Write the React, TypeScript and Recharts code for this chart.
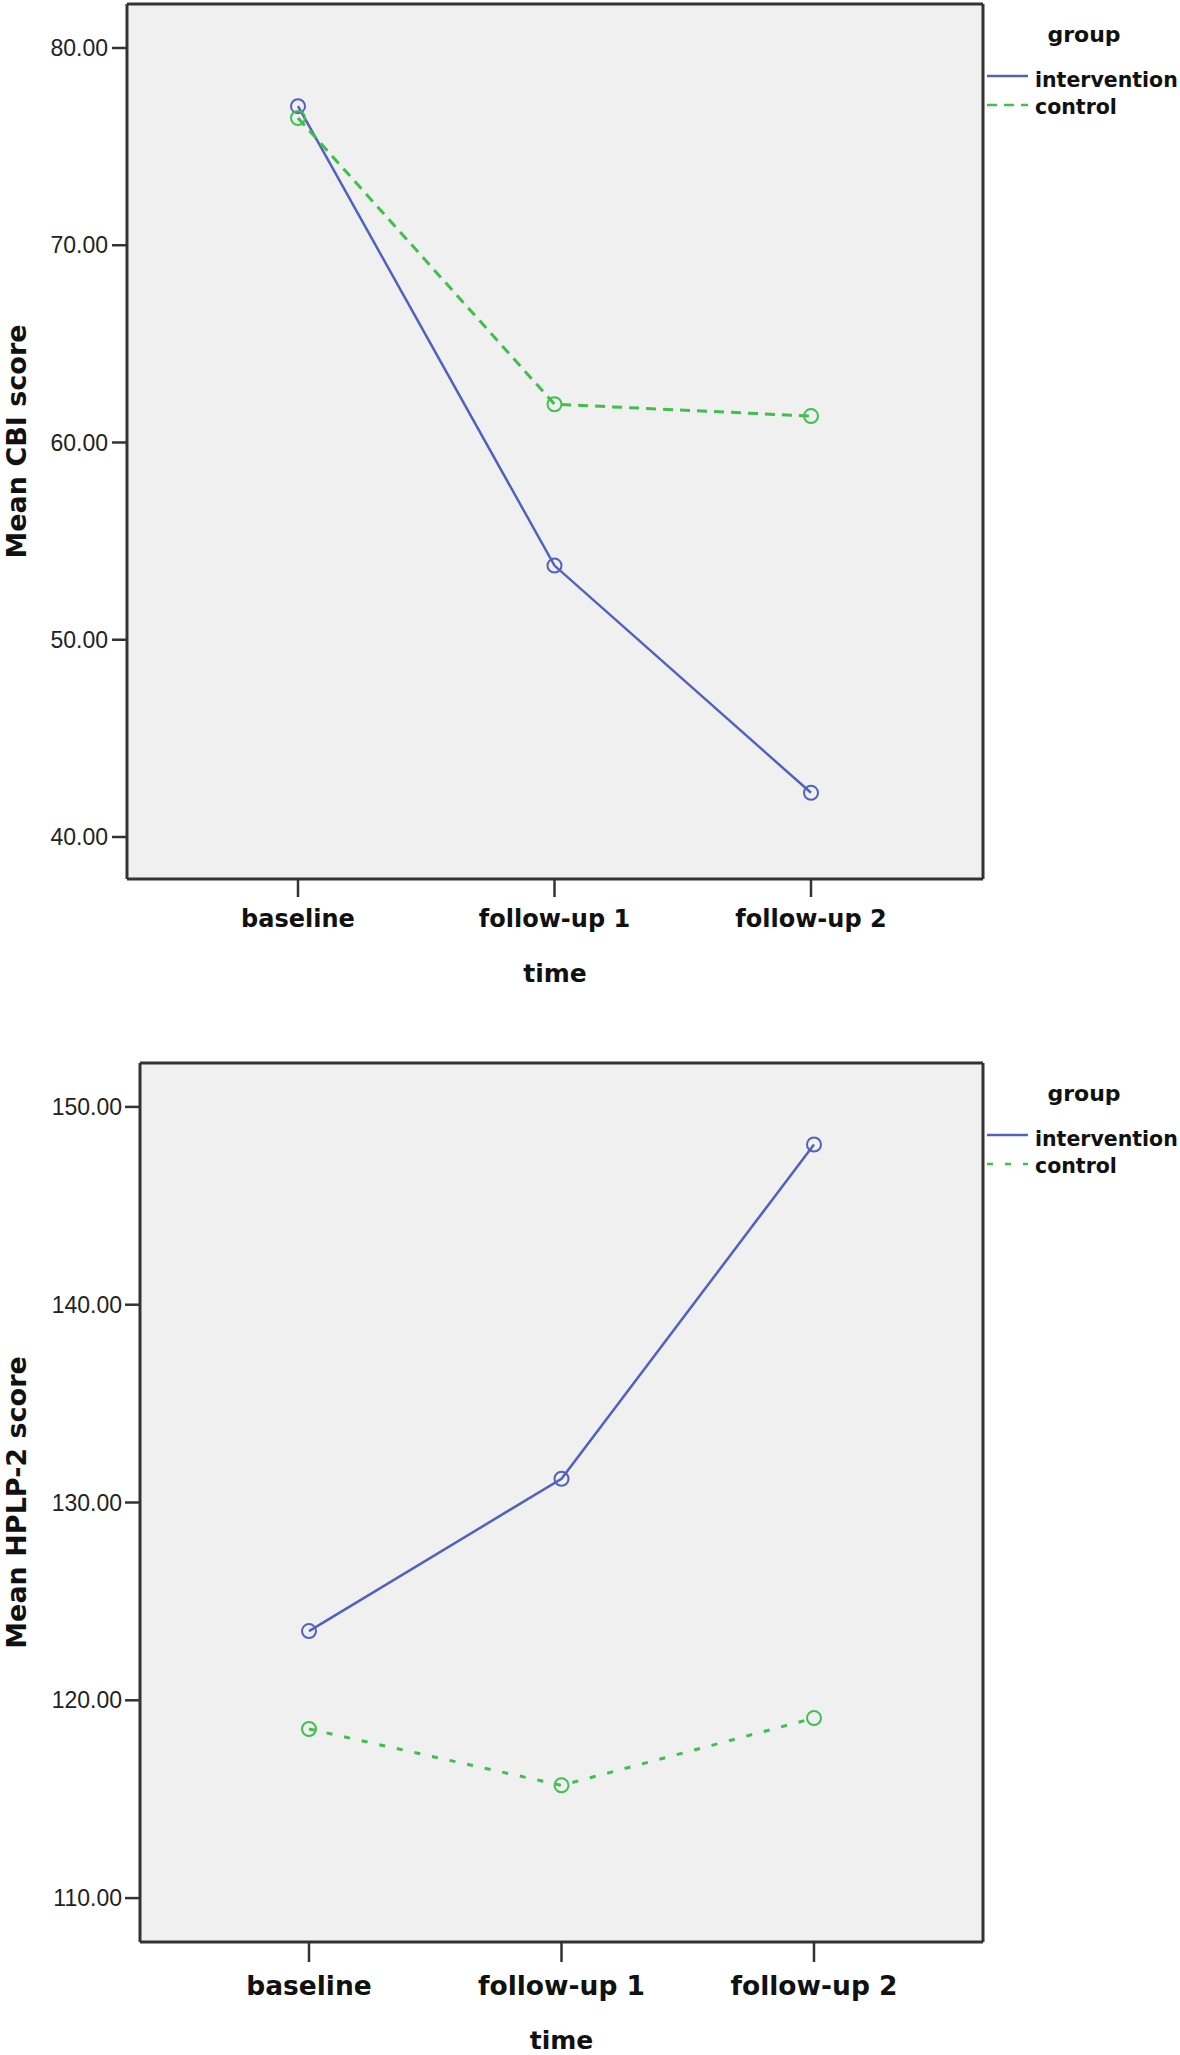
import { LineChart, Line, XAxis, YAxis, CartesianGrid } from 'recharts';

const categories = ['baseline', 'follow-up 1', 'follow-up 2'];

const cbiIntervention = [77.05, 53.76, 42.24];
const cbiControl = [76.45, 61.94, 61.34];
const cbiTicks = [40, 50, 60, 70, 80];

const hplpIntervention = [123.5, 131.2, 148.1];
const hplpControl = [118.55, 115.7, 119.1];
const hplpTicks = [110, 120, 130, 140, 150];

const BLUE = '#5161c0';
const GREEN = '#3fbf4c';
const FRAME = '#333333';
const BOLD = 'DejaVu Sans, sans-serif';
const PLAIN = 'Liberation Sans, Arial, sans-serif';

interface PanelProps {
  top: number;
  height: number;
  margin: { top: number; right: number; bottom: number; left: number };
  yWidth: number;
  xPad: { left: number; right: number };
  domain: [number, number];
  ticks: number[];
  yTitle: string;
  intervention: number[];
  control: number[];
  dash: string;
  catFont: number;
  catTickSize: number;
  catTickMargin: number;
  timeDy: number;
  yTickMargin: number;
}

function GroupLegend({ plotTop, dash }: { plotTop: number; dash: string }) {
  return (
    <svg
      width={200}
      height={130}
      style={{ position: 'absolute', left: 980, top: plotTop }}
    >
      <text x={104} y={38} textAnchor="middle" fontFamily={BOLD} fontWeight={700} fontSize={22} fill="#111">
        group
      </text>
      <line x1={7} x2={48} y1={72} y2={72} stroke={BLUE} strokeWidth={2.5} />
      <text x={55} y={83} fontFamily={BOLD} fontWeight={700} fontSize={20.5} fill="#111">
        intervention
      </text>
      <line x1={7} x2={48} y1={101} y2={101} stroke={GREEN} strokeWidth={2.5} strokeDasharray={dash} />
      <text x={55} y={110} fontFamily={BOLD} fontWeight={700} fontSize={20.5} fill="#111">
        control
      </text>
    </svg>
  );
}

function Panel(p: PanelProps) {
  const data = categories.map((c, i) => ({
    time: c,
    intervention: p.intervention[i],
    control: p.control[i],
  }));

  const yTitle = (props: any) => {
    const vb = props.viewBox;
    const cx = vb.x + 16;
    const cy = vb.y + vb.height / 2;
    return (
      <text
        x={cx}
        y={cy}
        transform={`rotate(-90 ${cx} ${cy})`}
        textAnchor="middle"
        dominantBaseline="central"
        fontFamily={BOLD}
        fontWeight={700}
        fontSize={27}
        fill="#111"
      >
        {p.yTitle}
      </text>
    );
  };

  const timeTitle = (props: any) => {
    const vb = props.viewBox;
    return (
      <text
        x={vb.x + vb.width / 2}
        y={vb.y + p.timeDy}
        textAnchor="middle"
        fontFamily={BOLD}
        fontWeight={700}
        fontSize={25}
        fill="#111"
      >
        time
      </text>
    );
  };

  const frame = { stroke: FRAME, strokeWidth: 3 };

  return (
    <div style={{ position: 'absolute', left: 0, top: p.top, width: 1180, height: p.height }}>
      <LineChart
        width={1180}
        height={p.height}
        data={data}
        margin={{ ...p.margin, top: p.margin.top - 1, right: p.margin.right - 1 }}
      >
        <CartesianGrid xAxisId="main" yAxisId="main" fill="#f0f0f0" horizontal={false} vertical={false} />
        <XAxis
          xAxisId="main"
          dataKey="time"
          height={100}
          padding={p.xPad}
          interval={0}
          axisLine={frame}
          tickLine={{ stroke: FRAME, strokeWidth: 2.5 }}
          tickSize={p.catTickSize}
          tickMargin={p.catTickMargin}
          tick={{ fontFamily: BOLD, fontWeight: 700, fontSize: p.catFont, fill: '#111' }}
          label={timeTitle}
        />
        <XAxis
          xAxisId="top"
          orientation="top"
          dataKey="time"
          height={1}
          padding={p.xPad}
          tick={false}
          tickLine={false}
          axisLine={frame}
        />
        <YAxis
          yAxisId="main"
          type="number"
          domain={p.domain}
          ticks={p.ticks}
          allowDataOverflow
          width={p.yWidth}
          tickFormatter={(v: number) => v.toFixed(2)}
          axisLine={frame}
          tickLine={{ stroke: FRAME, strokeWidth: 2.5 }}
          tickSize={15}
          tickMargin={p.yTickMargin}
          tick={{ fontFamily: PLAIN, fontSize: 23, fill: '#222' }}
          label={yTitle}
        />
        <YAxis
          yAxisId="right"
          orientation="right"
          type="number"
          domain={[0, 1]}
          width={1}
          tick={false}
          tickLine={false}
          axisLine={frame}
        />
        <Line
          xAxisId="main"
          yAxisId="main"
          type="linear"
          dataKey="intervention"
          stroke={BLUE}
          strokeWidth={2.5}
          dot={{ r: 7, fill: 'none', stroke: BLUE, strokeWidth: 2 }}
          activeDot={false}
          isAnimationActive={false}
        />
        <Line
          xAxisId="main"
          yAxisId="main"
          type="linear"
          dataKey="control"
          stroke={GREEN}
          strokeWidth={3}
          strokeDasharray={p.dash}
          dot={{ r: 7, fill: 'none', stroke: GREEN, strokeWidth: 2, strokeDasharray: '' }}
          activeDot={false}
          isAnimationActive={false}
        />
      </LineChart>
      <GroupLegend plotTop={p.margin.top} dash={p.dash} />
    </div>
  );
}

export default function App() {
  return (
    <div style={{ position: 'absolute', left: 0, top: 0, width: 1180, height: 2055, background: '#fff' }}>
      <Panel
        top={0}
        height={1020}
        margin={{ top: 4, right: 197, bottom: 41, left: 0 }}
        yWidth={127}
        xPad={{ left: 171, right: 172 }}
        domain={[37.87, 82.23]}
        ticks={cbiTicks}
        yTitle="Mean CBI score"
        intervention={cbiIntervention}
        control={cbiControl}
        dash="10 7"
        catFont={24}
        catTickSize={18}
        catTickMargin={13}
        timeDy={103}
        yTickMargin={4}
      />
      <Panel
        top={1030}
        height={1025}
        margin={{ top: 33, right: 197, bottom: 13, left: 0 }}
        yWidth={140}
        xPad={{ left: 169, right: 169 }}
        domain={[107.78, 152.22]}
        ticks={hplpTicks}
        yTitle="Mean HPLP-2 score"
        intervention={hplpIntervention}
        control={hplpControl}
        dash="6 12"
        catFont={26.5}
        catTickSize={20}
        catTickMargin={14}
        timeDy={107}
        yTickMargin={3}
      />
    </div>
  );
}
